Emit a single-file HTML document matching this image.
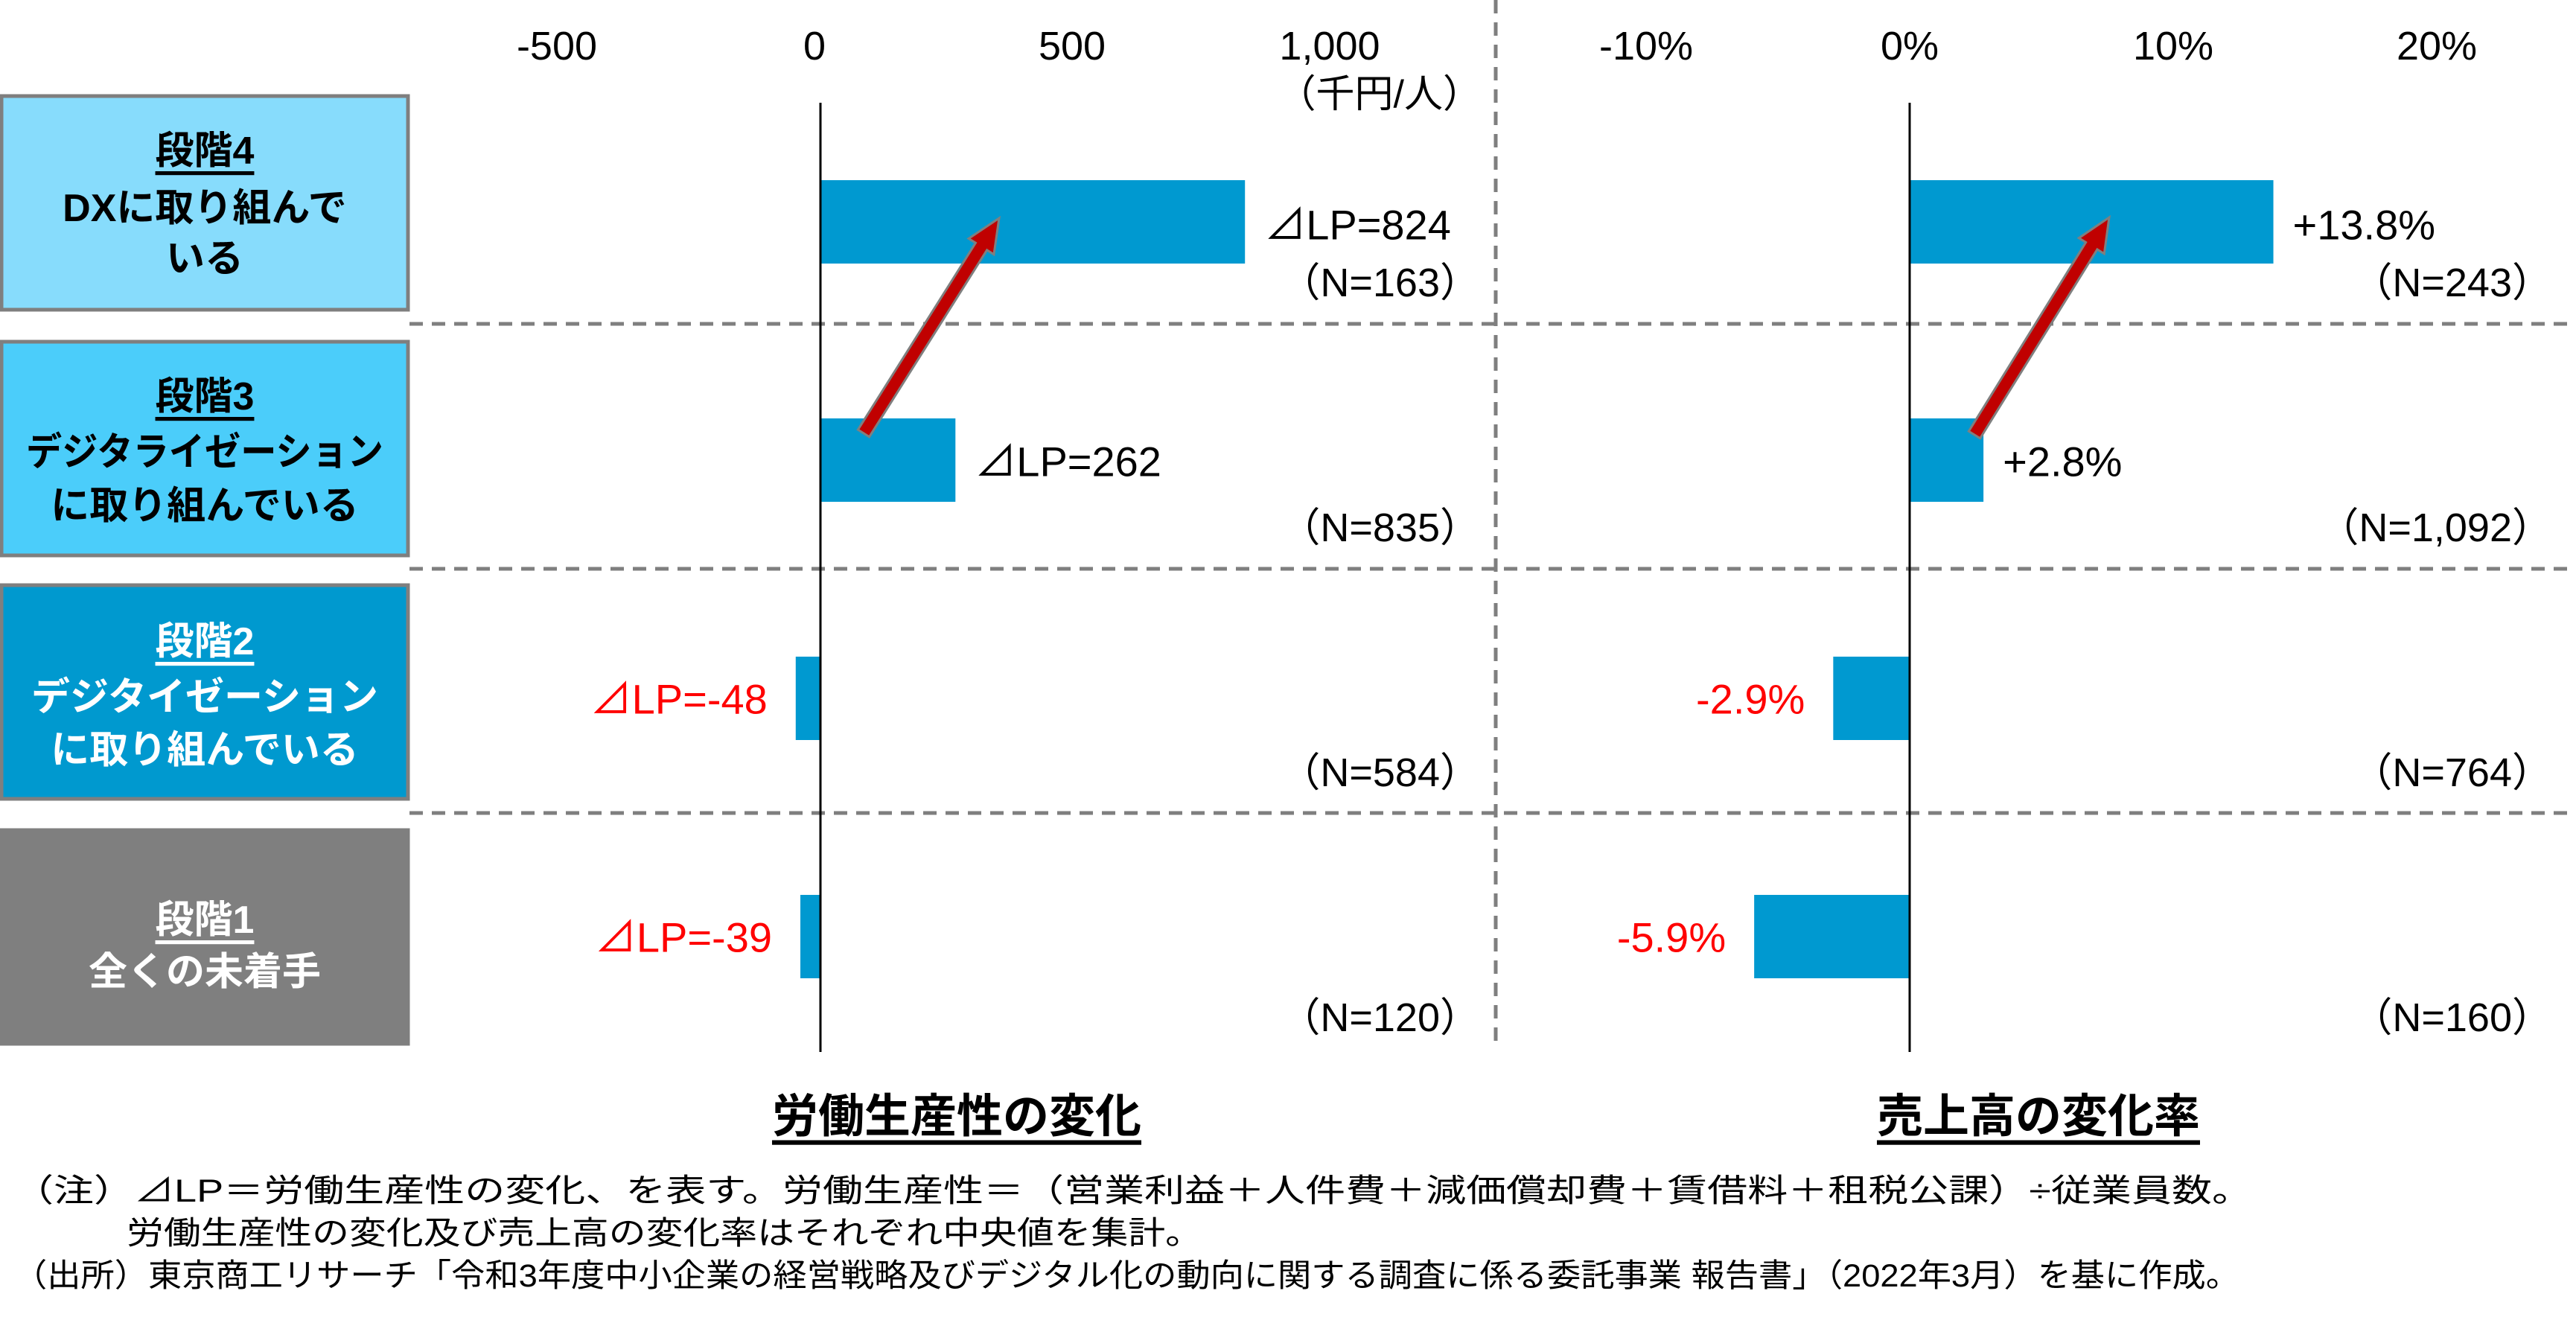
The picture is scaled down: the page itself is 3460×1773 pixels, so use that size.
<!DOCTYPE html>
<html><head><meta charset="utf-8"><style>
body{margin:0;background:#fff}
svg{display:block;font-family:"Liberation Sans","Noto Sans CJK JP",sans-serif}
</style></head><body>
<svg id="c" width="3460" height="1773" viewBox="0 0 3460 1773">
<g id="boxes">
<rect x="2" y="129" width="546" height="287" fill="#87dcfc" stroke="#7f7f7f" stroke-width="5"/>
<rect x="2" y="459" width="546" height="287" fill="#4bcdfa" stroke="#7f7f7f" stroke-width="5"/>
<rect x="2" y="786" width="546" height="287" fill="#0099cf" stroke="#7f7f7f" stroke-width="5"/>
<rect x="2" y="1115" width="546" height="287" fill="#7f7f7f" stroke="#7f7f7f" stroke-width="5"/>
<g font-weight="bold" font-size="52" text-anchor="middle" dominant-baseline="central">
<text x="275" y="203" text-decoration="underline">段階4</text>
<text x="275" y="280">DXに取り組んで</text>
<text x="275" y="348">いる</text>
<text x="275" y="533" text-decoration="underline">段階3</text>
<text x="275" y="608" textLength="480" lengthAdjust="spacingAndGlyphs">デジタライゼーション</text>
<text x="275" y="680">に取り組んでいる</text>
<g fill="#fff">
<text x="275" y="862" text-decoration="underline">段階2</text>
<text x="275" y="937">デジタイゼーション</text>
<text x="275" y="1008">に取り組んでいる</text>
<text x="275" y="1236" text-decoration="underline">段階1</text>
<text x="275" y="1306">全くの未着手</text>
</g></g></g>
<g stroke="#7f7f7f" stroke-width="5" stroke-dasharray="18,12">
<line x1="550" y1="435" x2="3450" y2="435"/>
<line x1="550" y1="764" x2="3450" y2="764"/>
<line x1="550" y1="1092" x2="3450" y2="1092"/>
<line x1="2009" y1="0" x2="2009" y2="1410"/>
</g>
<g id="plot"></g>
<g font-size="52" text-anchor="middle" dominant-baseline="central">
<text x="1990" y="127" text-anchor="end">（千円/人）</text>
<text x="1285" y="1500" font-weight="bold" text-decoration="underline" font-size="62">労働生産性の変化</text>
<text x="2738" y="1500" font-weight="bold" text-decoration="underline" font-size="62">売上高の変化率</text>
</g>
<g font-size="43" dominant-baseline="central">
<text x="18" y="1600" textLength="3007" lengthAdjust="spacingAndGlyphs">（注）⊿LP＝労働生産性の変化、を表す。労働生産性＝（営業利益＋人件費＋減価償却費＋賃借料＋租税公課）÷従業員数。</text>
<text x="170" y="1657" textLength="1445" lengthAdjust="spacingAndGlyphs">労働生産性の変化及び売上高の変化率はそれぞれ中央値を集計。</text>
<text x="18" y="1714" textLength="2990" lengthAdjust="spacingAndGlyphs">（出所）東京商工リサーチ「令和3年度中小企業の経営戦略及びデジタル化の動向に関する調査に係る委託事業 報告書」（2022年3月）を基に作成。</text>
</g>
</svg>
<script>
const lpTicks=[-500,0,500,1000];
const lpTickLabels=["-500","0","500","1,000"];
const salesTicks=[-10,0,10,20];
const salesTickLabels=["-10%","0%","10%","20%"];
const lpValues=[824,262,-48,-39];
const lpLabels=["⊿LP=824","⊿LP=262","⊿LP=-48","⊿LP=-39"];
const lpN=["（N=163）","（N=835）","（N=584）","（N=120）"];
const salesValues=[13.8,2.8,-2.9,-5.9];
const salesLabels=["+13.8%","+2.8%","-2.9%","-5.9%"];
const salesN=["（N=243）","（N=1,092）","（N=764）","（N=160）"];
const NS="http://www.w3.org/2000/svg";
const g=document.getElementById('plot');
const xl=v=>1102+v*0.692;
const xs=v=>2565+v*35.4;
const rowTop=i=>242+i*320;
const barH=112;
function el(t,a,txt){const e=document.createElementNS(NS,t);for(const k in a)e.setAttribute(k,a[k]);if(txt!==undefined)e.textContent=txt;g.appendChild(e);return e;}
lpTicks.forEach((t,i)=>{const e=el('text',{x:xl(t)-8,y:62,'font-size':54,'text-anchor':'middle','dominant-baseline':'central'},lpTickLabels[i]);

});
salesTicks.forEach((t,i)=>{const e=el('text',{x:xs(t),y:62,'font-size':54,'text-anchor':'middle','dominant-baseline':'central'},salesTickLabels[i]);

});
function panel(x,vals,labs,ns,pre,nRight){
 vals.forEach((v,i)=>{
  const y=rowTop(i);const x0=x(0),x1=x(v);
  const r=el('rect',{x:Math.min(x0,x1),y:y,width:Math.abs(x1-x0),height:barH,fill:'#0099d0'});
  
  
  const neg=v<0;
  const ly=i<2?[302,620][i]:y+57;
  const t=el('text',{x:neg?x1-38:x1+26,y:ly,'font-size':56,'text-anchor':neg?'end':'start','dominant-baseline':'central',fill:neg?'#ff0000':'#000'},labs[i]);
  
  
  const n=el('text',{x:nRight,y:[380,709,1038,1367][i],'font-size':54,'text-anchor':'end','dominant-baseline':'central'},ns[i]);
  
  
 });
 const a=el('line',{x1:x(0),y1:138,x2:x(0),y2:1413,stroke:'#000','stroke-width':3});
 
 
}
panel(xl,lpValues,lpLabels,lpN,'lp',1988);
panel(xs,salesValues,salesLabels,salesN,'sales',3428);
function arrow(x1,y1,x2,y2,name){
 const dx=x2-x1,dy=y2-y1,L=Math.hypot(dx,dy),ux=dx/L,uy=dy/L,px=-uy,py=ux;
 const w=9,hw=20,hl=45;const bx=x2-ux*hl,by=y2-uy*hl;
 const pts=[[x1+px*w,y1+py*w],[bx+px*w,by+py*w],[bx+px*hw,by+py*hw],[x2,y2],[bx-px*hw,by-py*hw],[bx-px*w,by-py*w],[x1-px*w,y1-py*w]];
 const p=el('polygon',{points:pts.map(q=>q.join(',')).join(' '),fill:'#c00000',stroke:'#7f7f7f','stroke-width':3});
 
 
}
arrow(1160,582,1342,293,'lp-trend-arrow');
arrow(2652,584,2833,292,'sales-trend-arrow');
</script>
</body></html>
